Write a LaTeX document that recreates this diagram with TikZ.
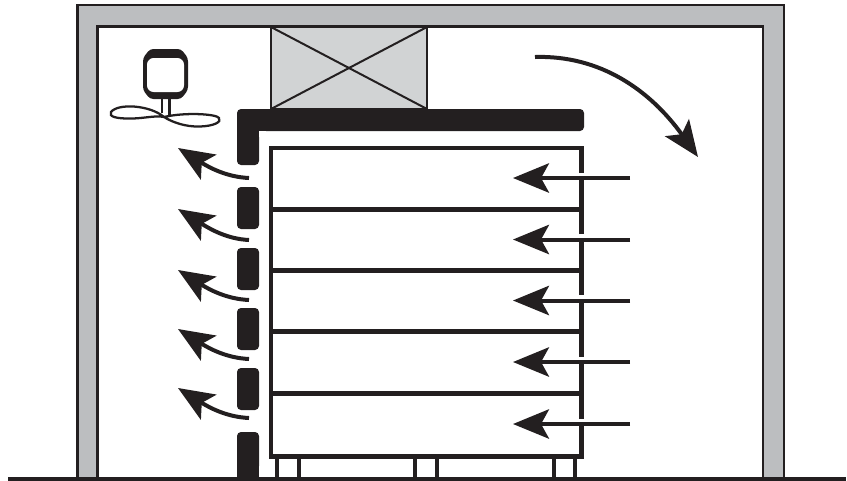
\documentclass[tikz,border=0pt]{standalone}
\usepackage{xcolor}
\usetikzlibrary{arrows.meta}
\definecolor{ink}{HTML}{231F20}
\definecolor{wallgrey}{HTML}{BCBEC0}
\definecolor{unitgrey}{HTML}{D1D3D4}

\begin{document}
\begin{tikzpicture}[x=.75pt, y=-.75pt,
    wall/.style = {draw=ink, line width=2.2pt, line join=miter},
    slat/.style = {fill=ink, rounded corners=3pt},
    shelf/.style = {draw=ink, line width=3.6pt},
    foot/.style = {draw=ink, line width=3.3pt},
    flow/.style = {draw=ink, line width=3pt, -{Stealth[length=27pt, width=22pt, inset=6pt]}}]
        \useasboundingbox (0,0) rectangle (847,480);

        \fill[wallgrey] (77.5,478) -- (77.5,5) -- (784,5) -- (784,478) -- (763,478) -- (763,26.5) -- (97.5,26.5) -- (97.5,478) -- cycle;
        \draw[wall] (77.5,478) -- (77.5,5) -- (784,5) -- (784,478);
        \draw[wall] (97.5,478) -- (97.5,26.5) -- (763,26.5) -- (763,478);

        \draw[draw=ink, fill=unitgrey, line width=1.8pt] (271,27) rectangle (427,109);
        \draw[draw=ink, line width=1.5pt] (271,27) -- (427,109);
        \draw[draw=ink, line width=1.5pt] (271,109) -- (427,27);

        \fill[slat] (237,165) -- (237,109) -- (584,109) -- (584,131) -- (259,131) -- (259,165) -- cycle;
        \fill[ink] (255,127) rectangle (265,135);
        \fill[white] (259,131) rectangle (266,137);
        \fill[slat] (237,187) rectangle (259,229);
        \fill[slat] (237,248) rectangle (259,290);
        \fill[slat] (237,308) rectangle (259,350);
        \fill[slat] (237,368) rectangle (259,410);
        \fill[slat] (237,432) rectangle (259,470);
        \fill[ink] (237,445) rectangle (259,478);

        \draw[foot] (277,457) -- (277,477);
        \draw[foot] (299,457) -- (299,477);
        \draw[foot] (415,457) -- (415,477);
        \draw[foot] (437,457) -- (437,477);
        \draw[foot] (554,457) -- (554,477);
        \draw[foot] (575,457) -- (575,477);

        \draw[shelf] (271,148) rectangle (581.5,456.5);
        \draw[shelf] (271,209.5) -- (581.5,209.5);
        \draw[shelf] (271,270.5) -- (581.5,270.5);
        \draw[shelf] (271,331.5) -- (581.5,331.5);
        \draw[shelf] (271,393.5) -- (581.5,393.5);

        \draw[white, line width=5pt] (581.5,172.5) -- (581.5,177);
        \draw[white, line width=5pt] (581.5,234) -- (581.5,238.5);
        \draw[white, line width=5pt] (581.5,295) -- (581.5,299.5);
        \draw[white, line width=5pt] (581.5,356.5) -- (581.5,361);
        \draw[white, line width=5pt] (581.5,418.5) -- (581.5,423);

        \coordinate (in1) at (630,178);
        \coordinate (in2) at (630,239.5);
        \coordinate (in3) at (630,300.5);
        \coordinate (in4) at (630,362);
        \coordinate (in5) at (630,424);
        \coordinate (shelf1) at (513,178);
        \coordinate (shelf2) at (513,239.5);
        \coordinate (shelf3) at (513,300.5);
        \coordinate (shelf4) at (513,362);
        \coordinate (shelf5) at (513,424);
        \draw[flow] (in1) -- (shelf1);
        \draw[flow] (in2) -- (shelf2);
        \draw[flow] (in3) -- (shelf3);
        \draw[flow] (in4) -- (shelf4);
        \draw[flow] (in5) -- (shelf5);

        \coordinate (gap1) at (249,178);
        \coordinate (gap2) at (249,240);
        \coordinate (gap3) at (249,300);
        \coordinate (gap4) at (249,359);
        \coordinate (gap5) at (249,418);
        \coordinate (out1) at (178,148);
        \coordinate (out2) at (178,209);
        \coordinate (out3) at (178,270);
        \coordinate (out4) at (178,329);
        \coordinate (out5) at (178,388);
        \draw[flow] (gap1) .. controls +(-22,-1) and +(32,20) .. (out1);
        \draw[flow] (gap2) .. controls +(-22,-1) and +(32,20) .. (out2);
        \draw[flow] (gap3) .. controls +(-22,-1) and +(32,20) .. (out3);
        \draw[flow] (gap4) .. controls +(-22,-1) and +(32,20) .. (out4);
        \draw[flow] (gap5) .. controls +(-22,-1) and +(32,20) .. (out5);

        \coordinate (top) at (535,57);
        \coordinate (down) at (698,157);
        \draw[flow] (top) .. controls +(65,-2) and +(-48,-67) .. (down);

        \fill[ink, rounded corners=2.5pt] (150,49) -- (181,49) -- (188,58) -- (188,90) -- (181,99) -- (150,99) -- (143,90) -- (143,58) -- cycle;
        \fill[white, rounded corners=5pt] (147,58) rectangle (184,92);
        \draw[draw=ink, line width=2pt] (162,99) -- (162,113);
        \draw[draw=ink, line width=2pt] (169.5,99) -- (169.5,115);
        \draw[draw=ink, line width=1.7pt] (164,117) .. controls (150,105) and (118,103) .. (111,112) .. controls (108,117) and (118,118.5) .. (128,118.5) .. controls (142,119) and (155,115) .. (164,117) .. controls (172,122) and (185,127) .. (200,126.5) .. controls (214,126) and (222,122) .. (219,118) .. controls (217,114) and (185,112) .. (164,117);

        \draw[draw=ink, line width=3pt] (8,478.5) -- (846,478.5);
      \end{tikzpicture}
\end{document}
